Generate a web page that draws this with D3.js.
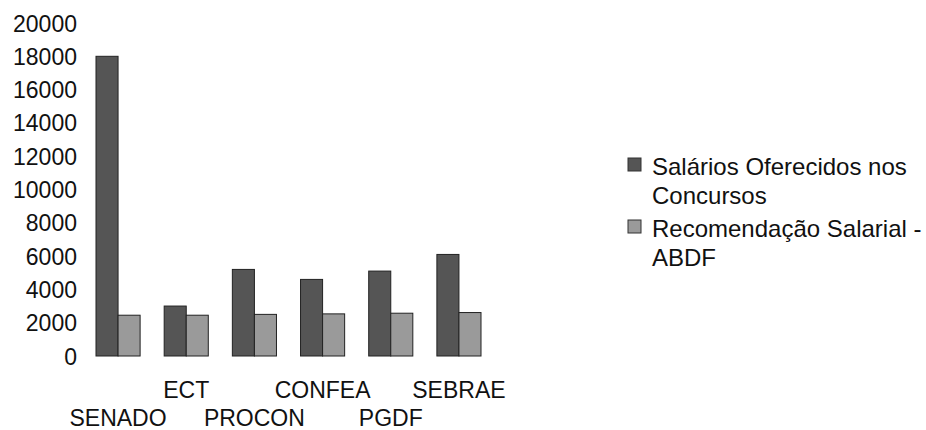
<!DOCTYPE html>
<html>
<head>
<meta charset="utf-8">
<script src="https://cdn.jsdelivr.net/npm/d3@7"></script>
<style>
  body { margin: 0; background: #fff; }
  text { font-family: "Liberation Sans", Arial, sans-serif; fill: #111; }
</style>
</head>
<body>
<div id="chart"></div>
<script>
var categories = ["SENADO", "ECT", "PROCON", "CONFEA", "PGDF", "SEBRAE"];
var seriesNames = ["Salários Oferecidos nos Concursos", "Recomendação Salarial - ABDF"];
var salarios = [18000, 3000, 5200, 4600, 5100, 6100];
var recomendacao = [2450, 2450, 2500, 2530, 2570, 2610];
var yTicks = [0, 2000, 4000, 6000, 8000, 10000, 12000, 14000, 16000, 18000, 20000];

var width = 926, height = 430;
var seriesColors = ["#555", "#9a9a9a"];
var legendLines = [["Salários Oferecidos nos", "Concursos"], ["Recomendação Salarial -", "ABDF"]];

var svg = d3.select("#chart").append("svg")
    .attr("width", width)
    .attr("height", height);

var y = d3.scaleLinear()
    .domain([0, 20000])
    .range([356, 23]);

var x0 = d3.scaleBand()
    .domain(categories)
    .range([84, 493])
    .paddingInner(0.353)
    .paddingOuter(0.176);

var x1 = d3.scaleBand()
    .domain([0, 1])
    .range([0, x0.bandwidth()]);

// y axis, labels only
var yAxis = svg.append("g")
    .attr("transform", "translate(77,0)")
    .call(d3.axisLeft(y).tickValues(yTicks).tickFormat(d3.format("d")).tickSize(0).tickPadding(0));
yAxis.select(".domain").remove();
yAxis.selectAll("text")
    .style("font-size", "23px")
    .attr("fill", "#111")
    .attr("dy", "0.35em");

// bars
var groups = svg.selectAll(".grp")
    .data(categories)
    .enter().append("g")
    .attr("class", "grp")
    .attr("transform", function(d) { return "translate(" + x0(d) + ",0)"; });

groups.selectAll("rect")
    .data(function(d, i) { return [salarios[i], recomendacao[i]]; })
    .enter().append("rect")
    .attr("x", function(d, j) { return x1(j); })
    .attr("y", function(d) { return y(d); })
    .attr("width", x1.bandwidth())
    .attr("height", function(d) { return y(0) - y(d); })
    .attr("fill", function(d, j) { return seriesColors[j]; })
    .attr("stroke", "#222")
    .attr("stroke-width", 1);

// category labels, staggered on two rows
svg.selectAll(".cat")
    .data(categories)
    .enter().append("text")
    .attr("class", "cat")
    .attr("x", function(d) { return x0(d) + x0.bandwidth() / 2; })
    .attr("y", function(d, i) { return i % 2 == 0 ? 426 : 398; })
    .attr("text-anchor", "middle")
    .style("font-size", "23px")
    .text(function(d) { return d; });

// legend
var legend = svg.selectAll(".leg")
    .data(seriesNames)
    .enter().append("g")
    .attr("class", "leg")
    .attr("transform", function(d, i) { return "translate(628," + (158 + i * 62) + ")"; });

legend.append("rect")
    .attr("width", 13)
    .attr("height", 13)
    .attr("fill", function(d, i) { return seriesColors[i]; })
    .attr("stroke", "#333");

legend.each(function(d, i) {
  var t = d3.select(this).append("text")
      .attr("x", 24)
      .attr("y", 17)
      .style("font-size", "24px");
  legendLines[i].forEach(function(line, k) {
    t.append("tspan").attr("x", 24).attr("dy", k == 0 ? 0 : 29).text(line);
  });
});
</script>
</body>
</html>
